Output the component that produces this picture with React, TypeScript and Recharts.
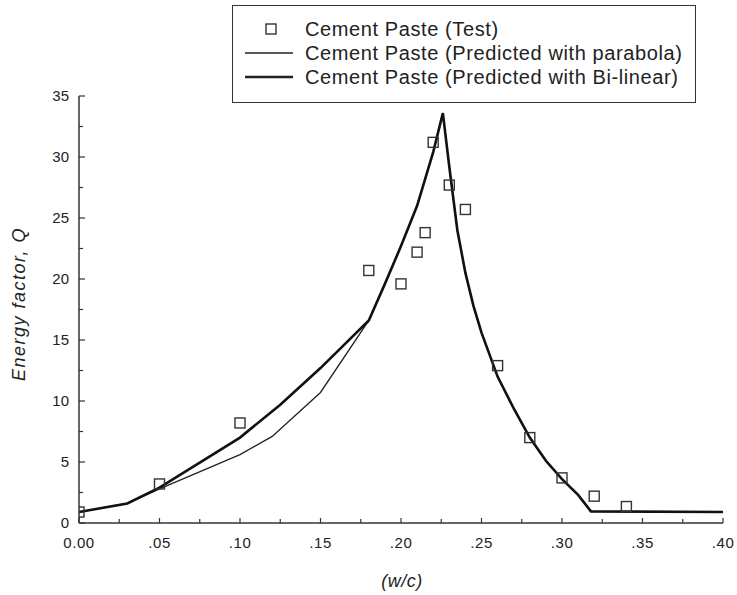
import React from 'react';
import { ComposedChart, Line, Scatter, XAxis, YAxis } from 'recharts';

// test points
const testX = [0, 0.05, 0.1, 0.18, 0.2, 0.21, 0.215, 0.22, 0.23, 0.24, 0.26, 0.28, 0.3, 0.32, 0.34];
const testQ = [0.9, 3.2, 8.2, 20.7, 19.6, 22.2, 23.8, 31.2, 27.7, 25.7, 12.9, 7.0, 3.7, 2.2, 1.35];

// predicted with parabola (thin)
const paraX = [0, 0.03, 0.05, 0.1, 0.12, 0.15, 0.18, 0.19, 0.2, 0.21, 0.22, 0.226, 0.23, 0.235, 0.24, 0.245, 0.25, 0.26, 0.27, 0.28, 0.29, 0.3, 0.31, 0.318, 0.4];
const paraQ = [0.9, 1.6, 2.8, 5.6, 7.1, 10.7, 16.6, 19.6, 22.7, 26.0, 30.4, 33.6, 29.2, 24.0, 20.5, 17.8, 15.6, 12.0, 9.4, 7.0, 5.1, 3.6, 2.3, 0.95, 0.9];

// predicted with bi-linear (thick)
const biX = [0, 0.03, 0.05, 0.1, 0.125, 0.15, 0.18, 0.19, 0.2, 0.21, 0.22, 0.226, 0.23, 0.235, 0.24, 0.245, 0.25, 0.26, 0.27, 0.28, 0.29, 0.3, 0.31, 0.318, 0.4];
const biQ = [0.9, 1.6, 2.9, 7.0, 9.7, 12.7, 16.6, 19.6, 22.7, 26.0, 30.4, 33.6, 29.2, 24.0, 20.5, 17.8, 15.6, 12.0, 9.4, 7.0, 5.1, 3.6, 2.3, 0.95, 0.9];

const xTicks = [0, 0.025, 0.05, 0.075, 0.1, 0.125, 0.15, 0.175, 0.2, 0.225, 0.25, 0.275, 0.3, 0.325, 0.35, 0.375, 0.4];
const yTicks = [0, 2.5, 5, 7.5, 10, 12.5, 15, 17.5, 20, 22.5, 25, 27.5, 30, 32.5, 35];

const legendItems = [
  { label: 'Cement Paste (Test)', kind: 'sq' },
  { label: 'Cement Paste (Predicted with parabola)', kind: 'thin' },
  { label: 'Cement Paste (Predicted with Bi-linear)', kind: 'thick' },
];

const testData = testX.map((x, i) => ({ x, q: testQ[i] }));
const paraData = paraX.map((x, i) => ({ x, q: paraQ[i] }));
const biData = biX.map((x, i) => ({ x, q: biQ[i] }));

const AXIS = '#333';
const FONT = 'Arial, "Liberation Sans", sans-serif';

const isMajor = (v: number, step: number) => Math.abs(v / step - Math.round(v / step)) < 1e-6;
const fmtX = (v: number) => (v === 0 ? '0.00' : v.toFixed(2).replace(/^0/, ''));

const BottomTick = (props: any) => {
  const { x, y, payload } = props;
  const major = isMajor(payload.value, 0.05);
  return (
    <g>
      <line x1={x} y1={y} x2={x} y2={y - (major ? 5 : 4)} stroke={AXIS} strokeWidth={1.2} />
      {major && (
        <text x={x} y={y + 25} textAnchor="middle" fontSize={15} letterSpacing={0.6} fill="#222" fontFamily={FONT}>
          {fmtX(payload.value)}
        </text>
      )}
    </g>
  );
};

const TopTick = (props: any) => {
  const { x, y, payload } = props;
  const major = isMajor(payload.value, 0.05);
  return <line x1={x} y1={y} x2={x} y2={y + (major ? 5 : 4)} stroke={AXIS} strokeWidth={1.2} />;
};

const LeftTick = (props: any) => {
  const { x, y, payload } = props;
  const major = isMajor(payload.value, 5);
  return (
    <g>
      <line x1={x} y1={y} x2={x + (major ? 6 : 4)} y2={y} stroke={AXIS} strokeWidth={1.2} />
      {major && (
        <text x={x - 10} y={y + 5} textAnchor="end" fontSize={15} fill="#222" fontFamily={FONT}>
          {payload.value}
        </text>
      )}
    </g>
  );
};

const RightTick = (props: any) => {
  const { x, y, payload } = props;
  const major = isMajor(payload.value, 5);
  return <line x1={x} y1={y} x2={x - (major ? 6 : 4)} y2={y} stroke={AXIS} strokeWidth={1.2} />;
};

const Square = (props: any) => {
  const { cx, cy } = props;
  return <rect x={cx - 5} y={cy - 5} width={10} height={10} fill="none" stroke="#333" strokeWidth={1.4} />;
};

const App = () => {
  return (
    <div style={{ position: 'absolute', left: 0, top: 0, width: 737, height: 595, background: '#fff', fontFamily: FONT }}>
      <ComposedChart width={737} height={595} margin={{ top: 96, right: 14, bottom: 42, left: 39 }}>
        <XAxis
          dataKey="x"
          type="number"
          domain={[0, 0.4]}
          ticks={xTicks}
          interval={0}
          height={30}
          tickSize={0}
          tickMargin={0}
          tick={<BottomTick />}
          axisLine={{ stroke: AXIS, strokeWidth: 1.5 }}
          allowDataOverflow
        />
        <XAxis
          xAxisId="top"
          orientation="top"
          dataKey="x"
          type="number"
          domain={[0, 0.4]}
          ticks={xTicks}
          interval={0}
          height={0}
          tickSize={0}
          tickMargin={0}
          tick={<TopTick />}
          axisLine={{ stroke: AXIS, strokeWidth: 1.5 }}
        />
        <YAxis
          type="number"
          domain={[0, 35]}
          ticks={yTicks}
          interval={0}
          width={40}
          tickSize={0}
          tickMargin={0}
          tick={<LeftTick />}
          axisLine={{ stroke: AXIS, strokeWidth: 1.5 }}
          allowDataOverflow
        />
        <YAxis
          yAxisId="right"
          orientation="right"
          type="number"
          domain={[0, 35]}
          ticks={yTicks}
          interval={0}
          width={0}
          tickSize={0}
          tickMargin={0}
          tick={<RightTick />}
          axisLine={{ stroke: AXIS, strokeWidth: 1.5 }}
        />
        <Line
          data={paraData}
          dataKey="q"
          type="linear"
          stroke="#222"
          strokeWidth={1.3}
          dot={false}
          isAnimationActive={false}
        />
        <Line
          data={biData}
          dataKey="q"
          type="linear"
          stroke="#111"
          strokeWidth={2.6}
          dot={false}
          isAnimationActive={false}
        />
        <Scatter data={testData} dataKey="q" shape={<Square />} isAnimationActive={false} />
      </ComposedChart>

      <div
        style={{
          position: 'absolute',
          left: 19,
          top: 304,
          transform: 'translate(-50%, -50%) rotate(-90deg)',
          fontSize: 18,
          letterSpacing: 1.5,
          fontStyle: 'italic',
          color: '#222',
          whiteSpace: 'nowrap',
        }}
      >
        Energy factor, Q
      </div>
      <div
        style={{
          position: 'absolute',
          left: 402,
          top: 581,
          transform: 'translate(-50%, -50%)',
          fontSize: 18,
          letterSpacing: 0.5,
          fontStyle: 'italic',
          color: '#222',
        }}
      >
        (w/c)
      </div>

      <div
        style={{
          position: 'absolute',
          left: 232,
          top: 5,
          width: 462,
          height: 96,
          border: '1.5px solid #333',
          background: '#fff',
          fontSize: 20,
          letterSpacing: 0.6,
          color: '#222',
        }}
      >
        {legendItems.map((r, i) => (
          <div key={i} style={{ position: 'absolute', left: 0, top: 11 + i * 24, height: 24, display: 'flex', alignItems: 'center' }}>
            <svg width={72} height={24} style={{ display: 'block' }}>
              {r.kind === 'sq' ? (
                <rect x={33} y={7} width={10} height={10} fill="none" stroke="#333" strokeWidth={1.4} />
              ) : (
                <line x1={12} y1={12} x2={60} y2={12} stroke="#222" strokeWidth={r.kind === 'thick' ? 2.6 : 1.3} />
              )}
            </svg>
            <span style={{ whiteSpace: 'nowrap' }}>{r.label}</span>
          </div>
        ))}
      </div>
    </div>
  );
};

export default App;
